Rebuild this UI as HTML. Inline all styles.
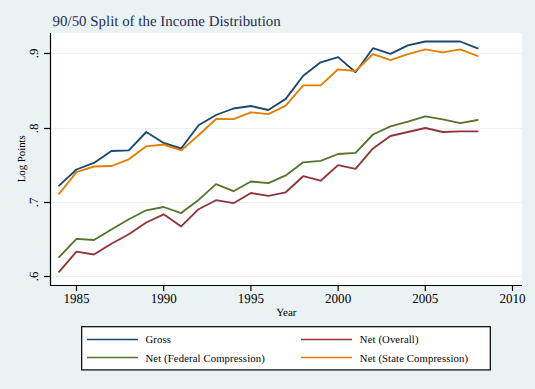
<!DOCTYPE html>
<html><head><meta charset="utf-8"><style>
html,body{margin:0;padding:0;background:#EAF2F3;}
svg{display:block;}
text{font-family:"Liberation Serif",serif;text-rendering:geometricPrecision;}
.tk{font-size:13.6px;fill:#000;}
.lg{font-size:10.7px;fill:#000;letter-spacing:0.12px;}
</style></head><body>
<svg width="535" height="389" viewBox="0 0 535 389">
<rect x="0" y="0" width="535" height="389" fill="#EAF2F3"/>
<rect x="51" y="33" width="471" height="252" fill="#FFFFFF"/>
<line x1="51" y1="53.5" x2="522" y2="53.5" stroke="#EAF2F3" stroke-width="1"/><line x1="51" y1="128.5" x2="522" y2="128.5" stroke="#EAF2F3" stroke-width="1"/><line x1="51" y1="202.5" x2="522" y2="202.5" stroke="#EAF2F3" stroke-width="1"/><line x1="51" y1="276.5" x2="522" y2="276.5" stroke="#EAF2F3" stroke-width="1"/>
<g fill="none" stroke-width="1.85" stroke-linejoin="round" stroke-linecap="round">
<polyline points="59.06,185.60 76.50,169.50 93.94,162.90 111.38,151.00 128.82,150.30 146.26,132.00 163.70,143.00 181.14,148.50 198.58,125.30 216.02,115.00 233.46,108.50 250.90,106.00 268.34,110.00 285.78,98.90 303.22,75.70 320.66,62.30 338.10,57.10 355.54,72.20 372.98,48.20 390.42,53.90 407.86,45.30 425.30,41.50 442.74,41.50 460.18,41.50 477.62,48.30" stroke="#1A476F"/>
<polyline points="59.06,271.80 76.50,251.60 93.94,254.50 111.38,243.70 128.82,234.30 146.26,222.50 163.70,214.30 181.14,226.40 198.58,209.20 216.02,200.20 233.46,203.20 250.90,193.00 268.34,195.90 285.78,192.30 303.22,176.20 320.66,180.70 338.10,165.10 355.54,168.90 372.98,148.40 390.42,136.00 407.86,132.00 425.30,128.00 442.74,132.00 460.18,131.40 477.62,131.40" stroke="#90353B"/>
<polyline points="59.06,257.20 76.50,238.90 93.94,240.00 111.38,229.50 128.82,219.30 146.26,210.30 163.70,207.00 181.14,213.10 198.58,199.90 216.02,184.10 233.46,191.20 250.90,181.50 268.34,183.10 285.78,175.40 303.22,162.30 320.66,160.90 338.10,154.00 355.54,152.90 372.98,134.50 390.42,126.30 407.86,121.60 425.30,116.30 442.74,119.30 460.18,123.20 477.62,120.00" stroke="#55752F"/>
<polyline points="59.06,193.80 76.50,172.20 93.94,166.50 111.38,166.00 128.82,159.30 146.26,146.30 163.70,144.50 181.14,150.40 198.58,135.30 216.02,119.00 233.46,119.20 250.90,112.30 268.34,114.20 285.78,105.60 303.22,85.40 320.66,85.40 338.10,69.30 355.54,71.00 372.98,54.20 390.42,60.20 407.86,54.20 425.30,49.30 442.74,52.40 460.18,49.30 477.62,56.00" stroke="#E37E00"/>
</g>
<line x1="50.5" y1="33" x2="50.5" y2="286" stroke="#000" stroke-width="1.2"/>
<line x1="50" y1="285.5" x2="522" y2="285.5" stroke="#000" stroke-width="1.2"/>
<line x1="44" y1="53.5" x2="51" y2="53.5" stroke="#000" stroke-width="1.2"/><line x1="44" y1="128.5" x2="51" y2="128.5" stroke="#000" stroke-width="1.2"/><line x1="44" y1="202.5" x2="51" y2="202.5" stroke="#000" stroke-width="1.2"/><line x1="44" y1="276.5" x2="51" y2="276.5" stroke="#000" stroke-width="1.2"/><text transform="translate(38.1,53.5) rotate(-90) scale(0.95,0.92)" text-anchor="middle" class="tk">.9</text><text transform="translate(38.1,128.5) rotate(-90) scale(0.95,0.92)" text-anchor="middle" class="tk">.8</text><text transform="translate(38.1,202.5) rotate(-90) scale(0.95,0.92)" text-anchor="middle" class="tk">.7</text><text transform="translate(38.1,276.5) rotate(-90) scale(0.95,0.92)" text-anchor="middle" class="tk">.6</text><line x1="76.50" y1="285" x2="76.50" y2="291" stroke="#000" stroke-width="1.2"/><line x1="163.70" y1="285" x2="163.70" y2="291" stroke="#000" stroke-width="1.2"/><line x1="250.90" y1="285" x2="250.90" y2="291" stroke="#000" stroke-width="1.2"/><line x1="338.10" y1="285" x2="338.10" y2="291" stroke="#000" stroke-width="1.2"/><line x1="425.30" y1="285" x2="425.30" y2="291" stroke="#000" stroke-width="1.2"/><line x1="512.50" y1="285" x2="512.50" y2="291" stroke="#000" stroke-width="1.2"/><text transform="translate(76.50,303.4) scale(0.96,1)" text-anchor="middle" class="tk">1985</text><text transform="translate(163.70,303.4) scale(0.96,1)" text-anchor="middle" class="tk">1990</text><text transform="translate(250.90,303.4) scale(0.96,1)" text-anchor="middle" class="tk">1995</text><text transform="translate(338.10,303.4) scale(0.96,1)" text-anchor="middle" class="tk">2000</text><text transform="translate(425.30,303.4) scale(0.96,1)" text-anchor="middle" class="tk">2005</text><text transform="translate(512.50,303.4) scale(0.96,1)" text-anchor="middle" class="tk">2010</text>
<text x="52.6" y="26" style="font-size:14.92px;fill:#1E2D53">90/50 Split of the Income Distribution</text>
<text transform="translate(25,158.8) rotate(-90)" text-anchor="middle" style="font-size:10.8px;fill:#000">Log Points</text>
<text x="286.3" y="315.7" text-anchor="middle" style="font-size:11px;fill:#000">Year</text>
<rect x="81.7" y="326.7" width="408.6" height="43.2" fill="#FFFFFF" stroke="#000" stroke-width="1.2"/>
<line x1="87" y1="339.5" x2="138" y2="339.5" stroke="#1A476F" stroke-width="1.3"/>
<line x1="87" y1="357.5" x2="138" y2="357.5" stroke="#55752F" stroke-width="1.3"/>
<line x1="301" y1="339.5" x2="352" y2="339.5" stroke="#90353B" stroke-width="1.3"/>
<line x1="301" y1="357.5" x2="352" y2="357.5" stroke="#E37E00" stroke-width="1.3"/>
<text x="145.5" y="342.7" class="lg">Gross</text>
<text x="145.5" y="361.5" class="lg">Net (Federal Compression)</text>
<text x="359.8" y="342.7" class="lg">Net (Overall)</text>
<text x="359.8" y="361.5" class="lg">Net (State Compression)</text>
</svg>
</body></html>
